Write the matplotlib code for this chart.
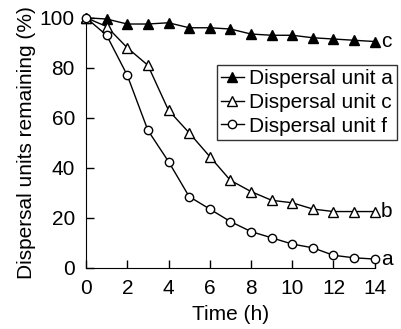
import numpy as np
import matplotlib
matplotlib.use('Agg')
import matplotlib.pyplot as plt

plt.rcParams['font.family'] = ['Liberation Sans', 'DejaVu Sans']

# Data
time_h = [0, 1, 2, 3, 4, 5, 6, 7, 8, 9, 10, 11, 12, 13, 14]
unit_a = [100, 99.5, 97.5, 97.5, 98, 96, 96, 95.5, 93.5, 93, 93, 92, 91.5, 91, 90.5]
unit_c = [100, 96.5, 88, 81, 63, 54, 44.5, 35, 30.5, 27, 26, 23.5, 22.5, 22.5, 22.5]
unit_f = [100, 93, 77, 55, 42.5, 28.5, 23.5, 18.5, 14.5, 12, 9.5, 8, 5, 4, 3.5]
end_labels = ['c', 'b', 'a']

fs = 15

fig = plt.figure(figsize=(4.01, 3.29), dpi=100)
ax = fig.add_axes([0.2145, 0.186, 0.72, 0.76])

ax.plot(time_h, unit_a, marker='^', color='black', markerfacecolor='black',
        markersize=7, linewidth=1, clip_on=False, label='Dispersal unit a', zorder=3)
ax.plot(time_h, unit_c, marker='^', color='black', markerfacecolor='white',
        markersize=7.5, linewidth=1, clip_on=False, label='Dispersal unit c', zorder=3)
ax.plot(time_h, unit_f, marker='o', color='black', markerfacecolor='white',
        markersize=6, linewidth=1, clip_on=False, label='Dispersal unit f', zorder=4)

# end-of-line letters
ax.text(14.3, unit_a[-1], end_labels[0], fontsize=fs, va='center', ha='left')
ax.text(14.3, unit_c[-1], end_labels[1], fontsize=fs, va='center', ha='left')
ax.text(14.3, unit_f[-1], end_labels[2], fontsize=fs, va='center', ha='left')

ax.set_xlim(0, 14)
ax.set_ylim(0, 100)
ax.set_xticks(np.arange(0, 15, 2))
ax.set_yticks(np.arange(0, 101, 20))
ax.tick_params(direction='in', length=5.5, width=1, labelsize=fs, pad=8)
ax.spines['top'].set_visible(False)
ax.spines['right'].set_visible(False)
ax.set_xlabel('Time (h)', fontsize=fs, labelpad=5)
ax.set_ylabel('Dispersal units remaining (%)', fontsize=fs, labelpad=3)

leg = ax.legend(loc='upper left', bbox_to_anchor=(0.452, 0.81), fontsize=fs,
                handlelength=1.1, handletextpad=0.25, borderpad=0.2,
                labelspacing=0.22, fancybox=False, frameon=True, borderaxespad=0)
leg.get_frame().set_edgecolor('black')
leg.get_frame().set_linewidth(1)

plt.savefig('out.png', dpi=100)
